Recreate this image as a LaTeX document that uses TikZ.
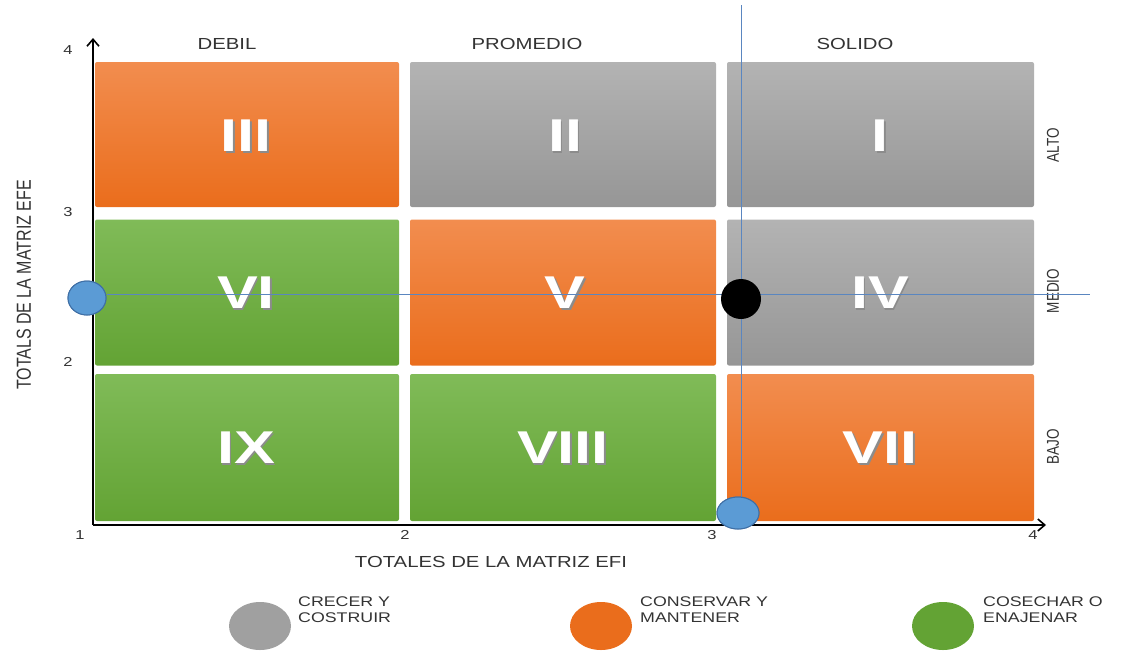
\documentclass[tikz,border=0pt]{standalone}
\usepackage{graphicx}
\usepackage{fontspec}
\setmainfont{Liberation Sans}
\usetikzlibrary{arrows.meta,shapes.geometric}
\definecolor{orT}{HTML}{F28D4F}
\definecolor{orB}{HTML}{EA6D1C}
\definecolor{grT}{HTML}{B3B3B3}
\definecolor{grB}{HTML}{969696}
\definecolor{gnT}{HTML}{80BB58}
\definecolor{gnB}{HTML}{63A334}
\definecolor{ptblue}{HTML}{5B9BD5}
\definecolor{ptblueb}{HTML}{3F6FA5}
\definecolor{guide}{HTML}{5A86C0}
\definecolor{txt}{HTML}{333333}
\newcommand{\rnum}[1]{\scalebox{1.33}[1]{\makebox[0pt][l]{\raisebox{-2pt}{\hspace{1.2pt}\textcolor{black!45}{#1}}}#1}}
\newcommand{\hstr}[1]{\scalebox{1.27}[1]{#1}}
\newcommand{\vstr}[1]{\scalebox{1}[1.27]{#1}}
\begin{document}
\begin{tikzpicture}[x=1pt,y=-1pt,
  cellbox/.style={rectangle,rounded corners=2pt,inner sep=0pt,draw=none},
  orangecell/.style={cellbox,top color=orT,bottom color=orB},
  graycell/.style={cellbox,top color=grT,bottom color=grB},
  greencell/.style={cellbox,top color=gnT,bottom color=gnB},
  numeral/.style={text=white,font=\fontsize{46}{46}\selectfont\bfseries},
  axislbl/.style={text=txt,font=\fontsize{16}{18}\selectfont},
  ticklbl/.style={text=txt,font=\fontsize{13}{15}\selectfont},
  sidelbl/.style={text=txt,font=\fontsize{13.5}{15}\selectfont,rotate=90},
  legendtxt/.style={text=txt,font=\fontsize{14}{16}\selectfont,align=left,anchor=west,inner sep=0pt},
  axis/.style={line width=1.8pt,black,-{Straight Barb[length=7pt,width=12pt,line width=1.6pt]}},
  guideline/.style={guide,line width=1pt},
  bluept/.style={ellipse,fill=ptblue,draw=ptblueb,line width=1pt,inner sep=0pt}
]
\useasboundingbox (0,0) rectangle (1129,651);
% cells
\node[orangecell,minimum width=304,minimum height=145] (c3) at (247,134.5) {};
\node[graycell,minimum width=306,minimum height=145] (c2) at (563,134.5) {};
\node[graycell,minimum width=307,minimum height=145] (c1) at (880.5,134.5) {};
\node[greencell,minimum width=304,minimum height=146] (c6) at (247,292.5) {};
\node[orangecell,minimum width=306,minimum height=146] (c5) at (563,292.5) {};
\node[graycell,minimum width=307,minimum height=146] (c4) at (880.5,292.5) {};
\node[greencell,minimum width=304,minimum height=147] (c9) at (247,447.5) {};
\node[greencell,minimum width=306,minimum height=147] (c8) at (563,447.5) {};
\node[orangecell,minimum width=307,minimum height=147] (c7) at (880.5,447.5) {};
% numerals
\node[numeral] (n3) at (246,137) {\rnum{III}};
\node[numeral] (n2) at (565,137) {\rnum{II}};
\node[numeral] (n1) at (880,137) {\rnum{I}};
\node[numeral] (n6) at (246,294) {\rnum{VI}};
\node[numeral] (n5) at (565,294) {\rnum{V}};
\node[numeral] (n4) at (880,294) {\rnum{IV}};
\node[numeral] (n9) at (246,449) {\rnum{IX}};
\node[numeral] (n8) at (563,449) {\rnum{VIII}};
\node[numeral] (n7) at (880,449) {\rnum{VII}};
% axes
\coordinate (o) at (93,525);
\coordinate (ytip) at (93,38);
\coordinate (xtip) at (1046,525);
\draw[axis] (o) -- (ytip);
\draw[axis] (o) -- (xtip);
% tick labels
\node[ticklbl] (y4) at (68,50) {\hstr{4}};
\node[ticklbl] (y3) at (68,212) {\hstr{3}};
\node[ticklbl] (y2) at (68,362) {\hstr{2}};
\node[ticklbl] (t1) at (80,535) {\hstr{1}};
\node[ticklbl] (x2) at (405,535) {\hstr{2}};
\node[ticklbl] (x3) at (712,535) {\hstr{3}};
\node[ticklbl] (x4) at (1033,535) {\hstr{4}};
% column / row labels
\node[axislbl] (debil) at (227,44) {\hstr{DEBIL}};
\node[axislbl] (prom) at (527,44) {\hstr{PROMEDIO}};
\node[axislbl] (solido) at (855,44) {\hstr{SOLIDO}};
\node[sidelbl] (alto) at (1053,145) {\vstr{ALTO}};
\node[sidelbl] (medio) at (1053,291) {\vstr{MEDIO}};
\node[sidelbl] (bajo) at (1053,447) {\vstr{BAJO}};
\node[axislbl,rotate=90] (ylab) at (24,285) {\vstr{TOTALS DE LA MATRIZ EFE}};
\node[axislbl] (xlab) at (491,562) {\hstr{TOTALES DE LA MATRIZ EFI}};
% guide lines and points
\node[bluept,minimum width=42,minimum height=32] (px) at (738,513) {};
\node[bluept,minimum width=38,minimum height=34] (py) at (87,298) {};
\coordinate (vtop) at (741,5);
\coordinate (hend) at (1090,294);
\draw[guideline] (px.north -| vtop) -- (vtop);
\draw[guideline] (py.east |- hend) -- (hend);
\node[circle,fill=black,inner sep=0pt,minimum size=40] (res) at (741,299) {};
\node[bluept,minimum width=42,minimum height=32] at (px) {};
\node[bluept,minimum width=38,minimum height=34] at (py) {};
% legend
\node[ellipse,fill=grB!90,inner sep=0pt,minimum width=62,minimum height=48] (lg1) at (260,626) {};
\node[ellipse,fill=orB,inner sep=0pt,minimum width=62,minimum height=48] (lg2) at (601,626) {};
\node[ellipse,fill=gnB,inner sep=0pt,minimum width=62,minimum height=48] (lg3) at (943,626) {};
\node[legendtxt] (lt1) at (298,610) {\hstr{CRECER Y}\\\hstr{COSTRUIR}};
\node[legendtxt] (lt2) at (640,610) {\hstr{CONSERVAR Y}\\\hstr{MANTENER}};
\node[legendtxt] (lt3) at (983,610) {\hstr{COSECHAR O}\\\hstr{ENAJENAR}};
\end{tikzpicture}
\end{document}
